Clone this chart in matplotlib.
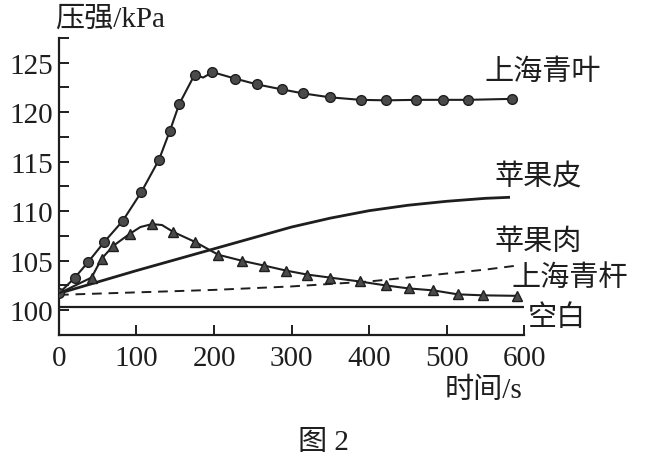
import matplotlib
matplotlib.use("Agg")
import matplotlib.pyplot as plt
from matplotlib.ticker import MultipleLocator

plt.rcParams['font.family'] = ['Liberation Serif', 'Noto Sans CJK SC']

# 上海青叶 (circles) - curve trace, markers at the sampled points
leaf_t = [0, 20.6, 38, 58.5, 82, 106, 129, 143, 155, 175, 186, 198, 227, 256, 288,
          315, 350, 389, 422, 461, 495, 528, 585]
leaf_p = [101.7, 103.3, 104.9, 106.9, 109.0, 111.9, 115.2, 118.1, 120.8, 123.8, 123.5,
          124.05, 123.4, 122.8, 122.3, 121.9, 121.5, 121.25, 121.2, 121.25, 121.25,
          121.25, 121.35]
leaf_marks = [i for i in range(len(leaf_t)) if i != 10]

# 苹果肉 (triangles)
flesh_t = [0, 42, 55, 70, 91, 105, 120, 133, 147.5, 175.5, 205.5, 235.7, 265, 293, 320,
           349, 388, 421.5, 451, 483, 514.5, 547.5, 590.5]
flesh_p = [101.7, 103.3, 105.2, 106.5, 107.7, 108.4, 108.7, 108.6, 107.9, 106.9, 105.6,
           105.0, 104.5, 104.0, 103.6, 103.3, 102.9, 102.5, 102.2, 102.0, 101.6, 101.5,
           101.45]
flesh_marks = [i for i in range(len(flesh_t)) if i not in (0, 5, 7)]

# 苹果皮 (solid line)
skin_t = [0, 100, 200, 250, 300, 350, 400, 450, 500, 550, 580]
skin_p = [101.7, 104.0, 106.2, 107.3, 108.4, 109.3, 110.05, 110.6, 111.0, 111.3, 111.4]

# 上海青杆 (dashed line)
stem_t = [0, 100, 200, 300, 400, 450, 500, 550, 590]
stem_p = [101.55, 101.8, 102.05, 102.4, 102.9, 103.3, 103.7, 104.1, 104.5]

# 空白
blank_t = [0, 598]
blank_p = [100.35, 100.35]

x_ticks = [0, 100, 200, 300, 400, 500, 600]
y_ticks = [100, 105, 110, 115, 120, 125]

ink = "#1e1e1e"

fig = plt.figure(figsize=(6.46, 4.64), dpi=100)
ax = fig.add_axes([0.0913, 0.276, 0.72, 0.64])

ax.plot(leaf_t, leaf_p, color=ink, lw=1.5, marker='o', markevery=leaf_marks,
        ms=7, mfc="#4a4a4a", mec=ink, mew=1.0, zorder=4)
ax.plot(flesh_t, flesh_p, color=ink, lw=1.5, marker='^', markevery=flesh_marks,
        ms=7, mfc="#4a4a4a", mec=ink, mew=1.0, zorder=4)
ax.plot(skin_t, skin_p, color=ink, lw=2.0, zorder=3)
ax.plot(stem_t, stem_p, color=ink, lw=1.4, ls=(0, (5, 3.5)), zorder=3)
ax.plot(blank_t, blank_p, color=ink, lw=1.6, zorder=3)

ax.set_xlim(0, 600)
ax.set_ylim(97.5, 127.5)
for s in ("top", "right"):
    ax.spines[s].set_visible(False)
for s in ("left", "bottom"):
    ax.spines[s].set_linewidth(1.6)
    ax.spines[s].set_color(ink)

ax.set_xticks(x_ticks)
ax.set_yticks(y_ticks)
ax.yaxis.set_minor_locator(MultipleLocator(2.5))
ax.tick_params(axis='both', which='both', direction='in', length=7, width=1.4,
               color=ink, labelsize=21, labelcolor=ink)
ax.tick_params(axis='x', pad=7)
ax.tick_params(axis='y', pad=4)

txt = dict(fontsize=21, color=ink, clip_on=False)
ax.text(-5, 129.5, "压强/kPa", ha='left', va='center', **txt)
ax.text(549, 124.1, "上海青叶", ha='left', va='center', **txt)
ax.text(562, 113.5, "苹果皮", ha='left', va='center', **txt)
ax.text(562, 106.9, "苹果肉", ha='left', va='center', **txt)
ax.text(584, 103.3, "上海青杆", ha='left', va='center', **txt)
ax.text(604.5, 99.3, "空白", ha='left', va='center', **txt)
ax.text(497, 92.0, "时间/s", ha='left', va='center', **txt)
fig.text(0.5, 0.045, "图 2", ha='center', va='center', fontsize=21, color=ink)

fig.savefig("out.png", dpi=100)
